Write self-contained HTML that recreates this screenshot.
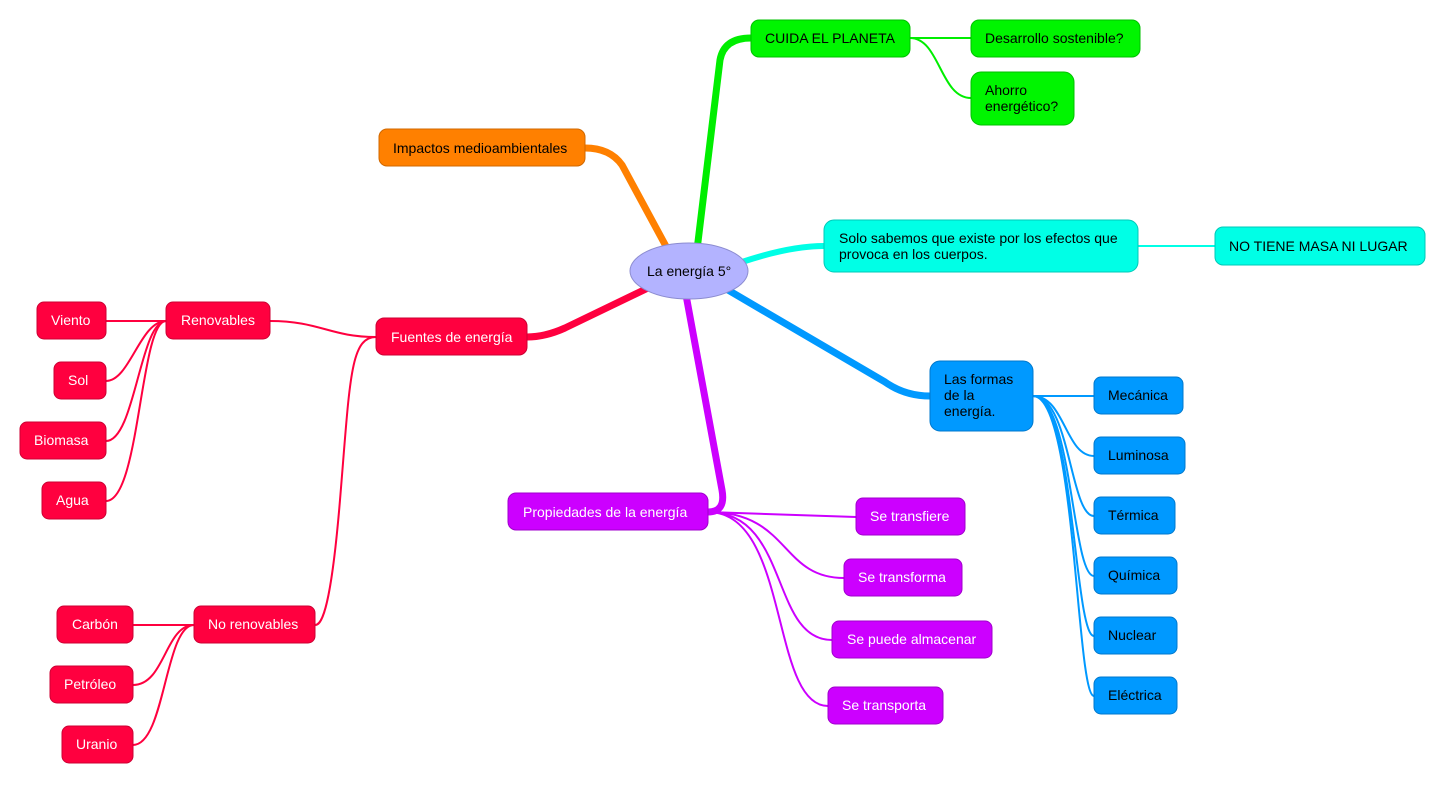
<!DOCTYPE html>
<html><head><meta charset="utf-8"><style>
body{margin:0;background:#fff;}
svg text{font-family:"Liberation Sans",sans-serif;font-size:14px;}
</style></head><body>
<svg width="1445" height="784" viewBox="0 0 1445 784" xmlns="http://www.w3.org/2000/svg">
<g fill="none" stroke-linecap="round">
<!-- thick branches -->
<path d="M697,250 L720,60 Q724,38 751,38" stroke="#00ee00" stroke-width="7"/>
<path d="M668,250 L622,165 Q610,148 585,148" stroke="#ff8000" stroke-width="7"/>
<path d="M742,262 Q790,246 824,246" stroke="#00ffe6" stroke-width="6"/>
<path d="M728,290 L885,382 Q905,396 930,396" stroke="#0099ff" stroke-width="7"/>
<path d="M648,288 L565,328 Q545,337 527,337" stroke="#ff003f" stroke-width="7"/>
<path d="M686,295 L722,490 Q726,512 708,512" stroke="#cc00ff" stroke-width="7"/>
<!-- thin -->
<g stroke="#00ee00" stroke-width="2">
<path d="M910,38 L971,38"/><path d="M910,38 C940,38 940,98 971,98"/>
</g>
<path d="M1138,246 L1215,246" stroke="#00ffe6" stroke-width="2"/>
<g stroke="#0099ff" stroke-width="2">
<path d="M1033,396 L1094,396"/>
<path d="M1033,396 C1065,396 1065,456 1094,456"/>
<path d="M1033,396 C1070,396 1070,516 1094,516"/>
<path d="M1033,396 C1072,396 1072,576 1094,576"/>
<path d="M1033,396 C1074,396 1074,636 1094,636"/>
<path d="M1033,396 C1076,396 1076,696 1094,696"/>
</g>
<g stroke="#cc00ff" stroke-width="2">
<path d="M708,512 L856,517"/>
<path d="M708,512 C790,512 780,578 844,578"/>
<path d="M708,512 C790,512 770,640 832,640"/>
<path d="M708,512 C790,512 770,706 828,706"/>
</g>
<g stroke="#ff003f" stroke-width="2">
<path d="M270,321 C320,321 330,337 376,337"/>
<path d="M376,337 C350,337 350,380 340,500 C330,620 320,625 315,625"/>
<path d="M166,321 L106,321"/>
<path d="M166,321 C140,321 130,381 106,381"/>
<path d="M166,321 C140,321 135,441 106,441"/>
<path d="M166,321 C140,321 140,501 106,501"/>
<path d="M194,625 L133,625"/>
<path d="M194,625 C165,625 165,685 133,685"/>
<path d="M194,625 C165,625 165,745 133,745"/>
</g>
</g>
<!-- nodes -->
<g stroke-width="1">
<g fill="#00f500" stroke="#00c000">
<rect x="751" y="20" width="159" height="37" rx="8"/>
<rect x="971" y="20" width="169" height="37" rx="8"/>
<rect x="971" y="72" width="103" height="53" rx="10"/>
</g>
<rect x="379" y="129" width="206" height="37" rx="8" fill="#ff8000" stroke="#d06800"/>
<g fill="#00ffe6" stroke="#00c8b8">
<rect x="824" y="220" width="314" height="52" rx="10"/>
<rect x="1215" y="227" width="210" height="38" rx="8"/>
</g>
<g fill="#0099ff" stroke="#0078cc">
<rect x="930" y="361" width="103" height="70" rx="10"/>
<rect x="1094" y="377" width="89" height="37" rx="7"/>
<rect x="1094" y="437" width="91" height="37" rx="7"/>
<rect x="1094" y="497" width="81" height="37" rx="7"/>
<rect x="1094" y="557" width="83" height="37" rx="7"/>
<rect x="1094" y="617" width="83" height="37" rx="7"/>
<rect x="1094" y="677" width="83" height="37" rx="7"/>
</g>
<g fill="#cc00ff" stroke="#a000cc">
<rect x="508" y="493" width="200" height="37" rx="8"/>
<rect x="856" y="498" width="109" height="37" rx="7"/>
<rect x="844" y="559" width="118" height="37" rx="7"/>
<rect x="832" y="621" width="160" height="37" rx="7"/>
<rect x="828" y="687" width="115" height="37" rx="7"/>
</g>
<g fill="#ff003f" stroke="#cc0033">
<rect x="376" y="318" width="151" height="37" rx="8"/>
<rect x="166" y="302" width="104" height="37" rx="7"/>
<rect x="194" y="606" width="121" height="37" rx="7"/>
<rect x="37" y="302" width="69" height="37" rx="7"/>
<rect x="54" y="362" width="52" height="37" rx="7"/>
<rect x="20" y="422" width="86" height="37" rx="7"/>
<rect x="42" y="482" width="64" height="37" rx="7"/>
<rect x="57" y="606" width="76" height="37" rx="7"/>
<rect x="50" y="666" width="83" height="37" rx="7"/>
<rect x="62" y="726" width="71" height="37" rx="7"/>
</g>
<ellipse cx="689" cy="271" rx="59" ry="28" fill="#b3b3ff" stroke="#8c8cd0"/>
</g>
<!-- text -->
<g fill="#000">
<text x="647" y="276">La energía 5°</text>
<text x="765" y="43">CUIDA EL PLANETA</text>
<text x="985" y="43">Desarrollo sostenible?</text>
<text x="985" y="95">Ahorro</text><text x="985" y="111">energético?</text>
<text x="393" y="153">Impactos medioambientales</text>
<text x="839" y="243">Solo sabemos que existe por los efectos que</text>
<text x="839" y="259">provoca en los cuerpos.</text>
<text x="1229" y="251">NO TIENE MASA NI LUGAR</text>
<text x="944" y="384">Las formas</text><text x="944" y="400">de la</text><text x="944" y="416">energía.</text>
<text x="1108" y="400">Mecánica</text>
<text x="1108" y="460">Luminosa</text>
<text x="1108" y="520">Térmica</text>
<text x="1108" y="580">Química</text>
<text x="1108" y="640">Nuclear</text>
<text x="1108" y="700">Eléctrica</text>
</g>
<g fill="#fff">
<text x="523" y="517">Propiedades de la energía</text>
<text x="870" y="521">Se transfiere</text>
<text x="858" y="582">Se transforma</text>
<text x="847" y="644">Se puede almacenar</text>
<text x="842" y="710">Se transporta</text>
<text x="391" y="342">Fuentes de energía</text>
<text x="181" y="325">Renovables</text>
<text x="208" y="629">No renovables</text>
<text x="51" y="325">Viento</text>
<text x="68" y="385">Sol</text>
<text x="34" y="445">Biomasa</text>
<text x="56" y="505">Agua</text>
<text x="72" y="629">Carbón</text>
<text x="64" y="689">Petróleo</text>
<text x="76" y="749">Uranio</text>
</g>
</svg>
</body></html>
